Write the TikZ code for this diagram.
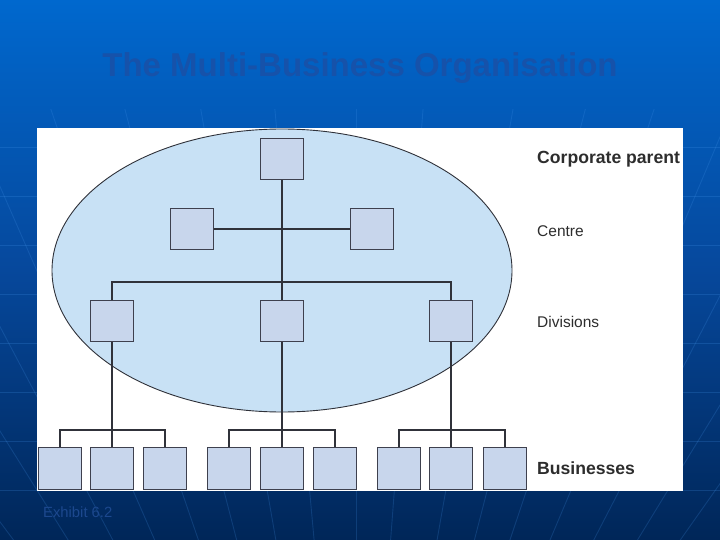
\documentclass[tikz,border=0pt]{standalone}
\usepackage{fontspec}
\setmainfont{Liberation Sans}
\usetikzlibrary{calc}
\definecolor{bgtop}{RGB}{0,104,206}
\definecolor{bgmid}{RGB}{6,72,156}
\definecolor{bgbot}{RGB}{0,38,88}
\definecolor{boxfill}{RGB}{200,214,236}
\definecolor{boxline}{RGB}{62,64,78}
\definecolor{ellfill}{RGB}{200,225,245}
\definecolor{connline}{RGB}{48,50,58}
\definecolor{labtext}{RGB}{45,45,45}
\definecolor{titlecol}{RGB}{22,82,170}
\definecolor{exhcol}{RGB}{28,72,142}
\definecolor{raycol}{RGB}{70,150,235}
\tikzset{
  orgbox/.style={draw=boxline, fill=boxfill, line width=1.2pt, minimum width=42.5pt, minimum height=41.5pt, inner sep=0pt},
  conn/.style={draw=connline, line width=2pt},
  lab/.style={anchor=west, text=labtext, inner sep=0pt, font=\fontsize{15.5}{18}\selectfont},
  boldlab/.style={anchor=west, text=labtext, inner sep=0pt, font=\fontsize{17.6}{20}\selectfont\bfseries},
}
\begin{document}
\begin{tikzpicture}[x=1pt,y=-1pt]
\useasboundingbox (0,0) rectangle (720,540);
% background
\shade[top color=bgtop, bottom color=bgbot, middle color=bgmid] (0,0) rectangle (720,540);
\begin{scope}
\clip (0,110) rectangle (720,540);
\foreach \yy in {147,196,245,294,343,392,441,490}
  \draw[raycol, opacity=0.22, line width=0.9pt] (0,\yy) -- (720,\yy);
\coordinate (O) at (356,1000);
\foreach \xx in {-20,40,89,135,183,225,268,310,356,394,445,486,525,569,617,665,712}
  \draw[raycol, opacity=0.2, line width=0.9pt] (O) -- ($(O)!1.8!(\xx,495)$);
\end{scope}
% title
\node[text=titlecol, inner sep=0pt, font=\fontsize{33}{38}\selectfont\bfseries] (title) at (360,68) {The Multi-Business Organisation};
% panel
\fill[white] (37,128) rectangle (683,491);
% ellipse
\draw[fill=ellfill, draw=connline, line width=0.9pt] (282,270.5) ellipse [x radius=230pt, y radius=141.5pt];
% boxes
\node[orgbox] (cp) at (282,159) {};
\node[orgbox] (c1) at (192,229) {};
\node[orgbox] (c2) at (372,229) {};
\node[orgbox] (d1) at (112,321) {};
\node[orgbox] (d2) at (282,321) {};
\node[orgbox] (d3) at (451,321) {};
\foreach \i/\xx in {1/60,2/112,3/165,4/229,5/282,6/335,7/399,8/451,9/505}
  \node[orgbox] (b\i) at (\xx,468.5) {};
% connectors
\draw[conn] (c1.east) -- (c2.west);
\draw[conn] (cp.south) -- (d2.north);
\draw[conn] (d1.north) -- ++(0,-17.5) -| (d3.north);
\draw[conn] (d1.south) -- (b2.north);
\draw[conn] (d2.south) -- (b5.north);
\draw[conn] (d3.south) -- (b8.north);
\draw[conn] (b1.north) -- ++(0,-17) -| (b3.north);
\draw[conn] (b4.north) -- ++(0,-17) -| (b6.north);
\draw[conn] (b7.north) -- ++(0,-17) -| (b9.north);
% labels
\node[boldlab] (lcp) at (537,159) {Corporate parent};
\node[lab] (lc) at (537,231) {Centre};
\node[lab] (ld) at (537,322) {Divisions};
\node[boldlab] (lb) at (537,468) {Businesses};
% exhibit
\node[anchor=west, inner sep=0pt, text=exhcol, font=\fontsize{14.8}{17}\selectfont] (exh) at (43,512) {Exhibit 6.2};
\end{tikzpicture}
\end{document}
